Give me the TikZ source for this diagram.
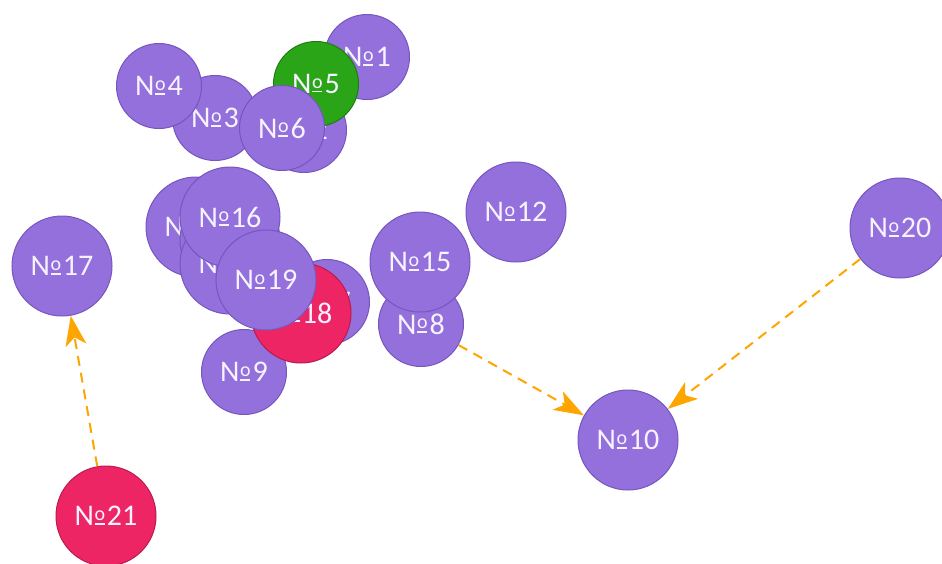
\documentclass[tikz,border=0pt]{standalone}
\usepackage{fontspec}
\setmainfont{Carlito}
\usetikzlibrary{arrows.meta}
\definecolor{pfill}{HTML}{9370DB}
\definecolor{pdraw}{HTML}{7656BE}
\definecolor{gfill}{HTML}{2BA518}
\definecolor{gdraw}{HTML}{1F7C10}
\definecolor{rfill}{HTML}{EE2565}
\definecolor{rdraw}{HTML}{BA1A4E}
\definecolor{arr}{HTML}{FFA500}
\definecolor{txt}{HTML}{F6F2FF}
\newcommand\nmo{N\kern0.02em\raisebox{0.035em}{\rlap{\rule{0.34em}{0.06em}}}\raisebox{0.18em}{\fontsize{20}{20}\selectfont o}\kern0.06em}
\tikzset{
  vx/.style={circle, inner sep=0pt, line width=1pt, text=txt,
    font=\fontsize{30}{30}\selectfont},
  pur/.style={vx, fill=pfill, draw=pdraw},
  grn/.style={vx, fill=gfill, draw=gdraw},
  red/.style={vx, fill=rfill, draw=rdraw},
  big/.style={minimum size=100pt},
  sml/.style={minimum size=85pt},
  link/.style={draw=arr, line width=2pt, dash pattern=on 10pt off 7pt,
    -{Stealth[length=30pt,width=21pt,inset=8pt,sep=0pt]}}
}
\begin{document}
\begin{tikzpicture}[x=1pt,y=-1pt]
\useasboundingbox (0,0) rectangle (942,563);
\node[pur,sml] (n1) at (367,57) {\nmo1};
\node[pur,sml] (n2) at (304,130) {\nmo2};
\node[pur,sml] (n3) at (215,118) {\nmo3};
\node[pur,sml] (n4) at (159,86) {\nmo4};
\node[grn,sml] (n5) at (316,84) {\nmo5};
\node[pur,sml] (n6) at (282,128) {\nmo6};
\node[pur,sml] (n7) at (327,302) {\nmo7};
\node[pur,sml] (n8) at (421,324) {\nmo8};
\node[pur,sml] (n9) at (244,372) {\nmo9};
\node[pur,big] (n10) at (628,440) {\nmo10};
\node[pur,big] (n11) at (196,227) {\nmo11};
\node[pur,big] (n12) at (516,212) {\nmo12};
\node[pur,big] (n13) at (230,240) {\nmo13};
\node[pur,big] (n14) at (230,264) {\nmo14};
\node[pur,big] (n15) at (420,262) {\nmo15};
\node[pur,big] (n16) at (230,217) {\nmo16};
\node[pur,big] (n17) at (62,266) {\nmo17};
\node[red,big] (n18) at (301,313) {\nmo18};
\node[pur,big] (n19) at (266,280) {\nmo19};
\node[pur,big] (n20) at (900,228) {\nmo20};
\node[red,big] (n21) at (106,516) {\nmo21};
\draw[link] (n8) -- (n10);
\draw[link] (n20) -- (n10);
\draw[link] (n21) -- (n17);
\end{tikzpicture}
\end{document}
